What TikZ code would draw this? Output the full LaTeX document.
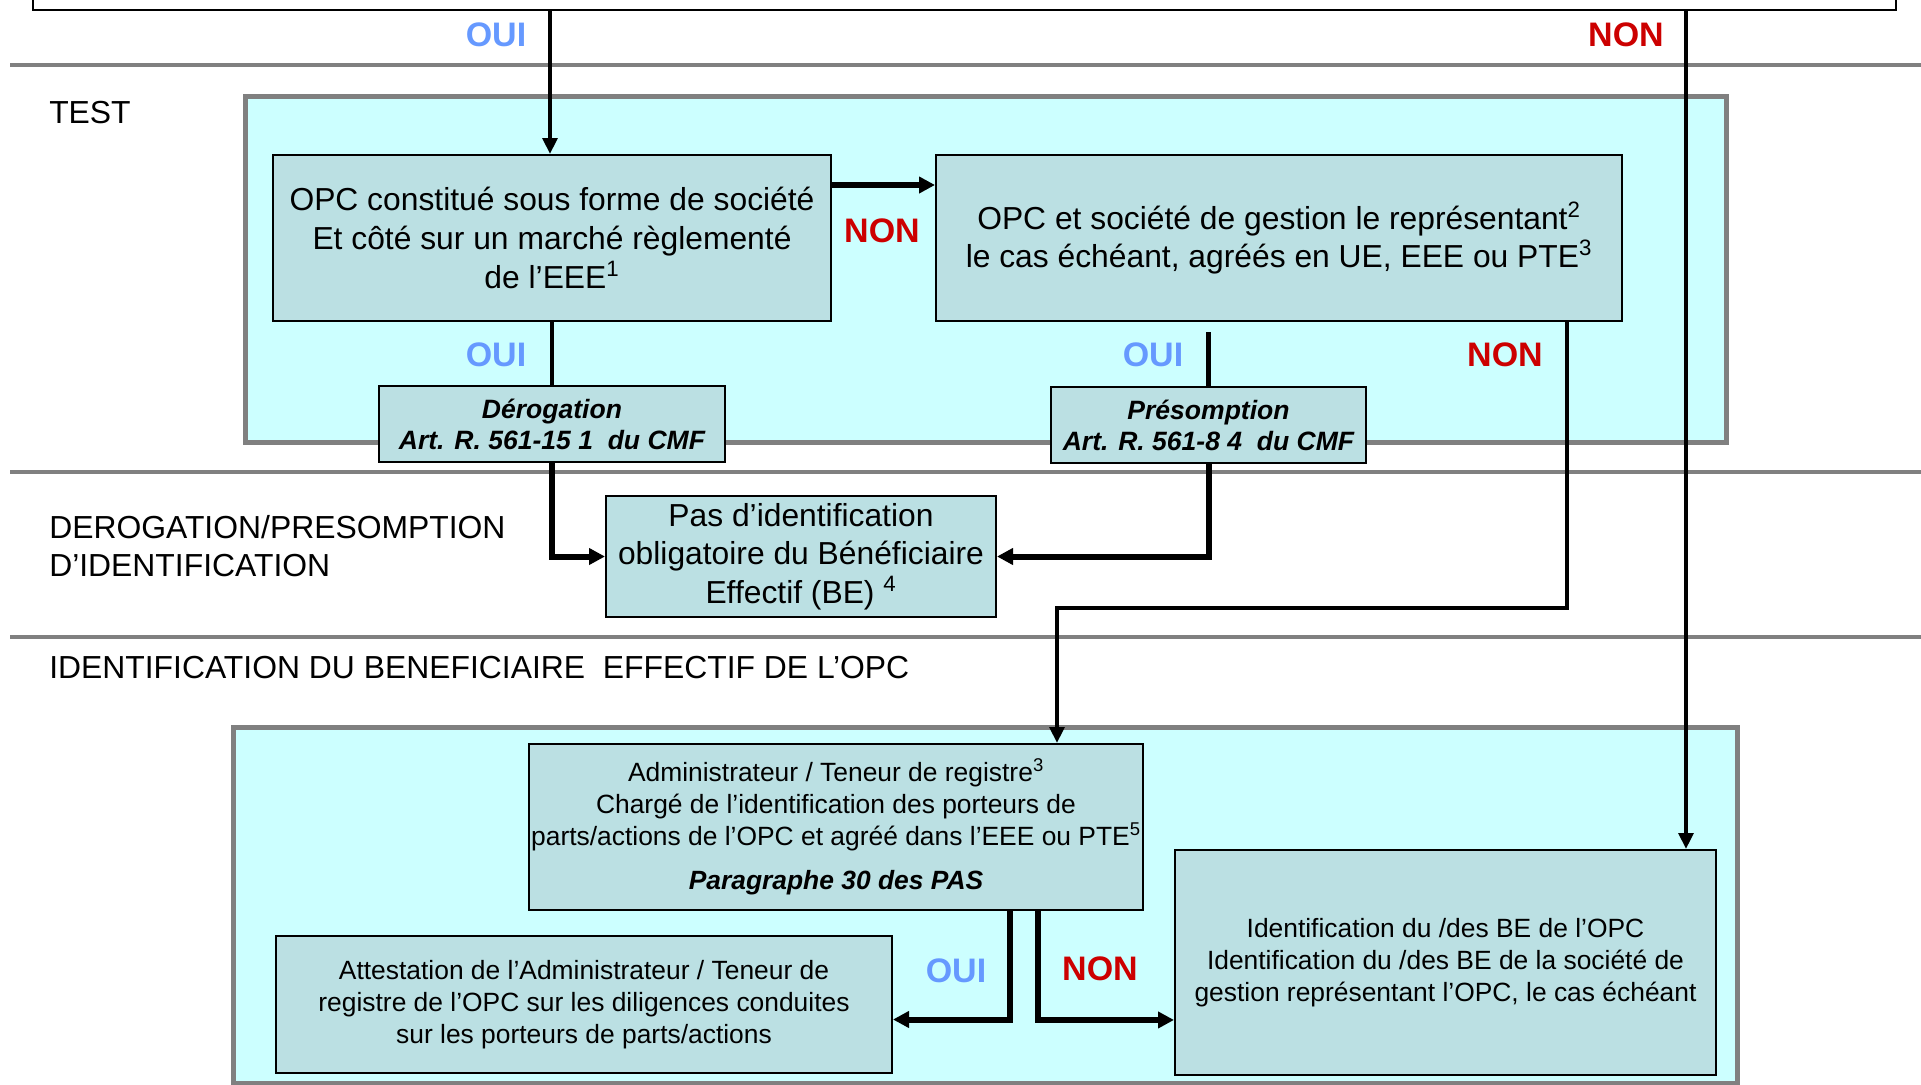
\documentclass[tikz,border=0pt]{standalone}
\usepackage{fontspec}
\setmainfont{Liberation Sans}
\usepackage{tikz}
\usetikzlibrary{arrows.meta}

\definecolor{zoneCyan}{RGB}{204,255,255}
\definecolor{boxBlue}{RGB}{187,224,227}
\definecolor{sepGray}{RGB}{128,128,128}
\definecolor{ouiBlue}{RGB}{102,153,255}
\definecolor{nonRed}{RGB}{204,0,0}

\tikzset{
  box/.style={draw=black, fill=boxBlue, line width=1.5pt, inner sep=0pt, align=center, anchor=north west},
  bigtxt/.style={font=\fontsize{23.85}{29}\selectfont},
  smalltxt/.style={font=\fontsize{19.8}{24}\selectfont},
  arttxt/.style={font=\fontsize{19.9}{23.25}\selectfont\bfseries\itshape},
  zone/.style={draw=sepGray, fill=zoneCyan, line width=3.75pt},
  sepline/.style={draw=sepGray, line width=3pt},
  link/.style={line width=3.6pt},
  flow/.style={line width=4.5pt, -{Triangle[length=12pt,width=12pt]}},
  oui/.style={text=ouiBlue, inner sep=0pt, font=\fontsize{25.5}{30}\selectfont\bfseries},
  non/.style={text=nonRed, inner sep=0pt, font=\fontsize{25.5}{30}\selectfont\bfseries},
  section/.style={anchor=west, align=left, inner sep=0pt, font=\fontsize{23.9}{28.5}\selectfont},
}

\begin{document}
\begin{tikzpicture}[x=0.75pt,y=0.75pt,yscale=-1,xscale=1]
\useasboundingbox (0,0) rectangle (1921,1085);

%Separator lines
\draw[sepline] (10,65) -- (1921,65);
\draw[sepline] (10,472) -- (1921,472);
\draw[sepline] (10,637) -- (1921,637);

%Shape: top box, only its lower part is seen
\draw[line width=1.5pt] (33,0) -- (33,10) -- (1896,10) -- (1896,0);

%Shape: zones
\draw[zone] (245,96) rectangle (1726,442);
\draw[zone] (233,727) rectangle (1737,1083);

% Text Node
\node[section] (lblTest) at (49,113) {TEST};
% Text Node
\node[section] (lblDerog) at (49,546) {DEROGATION/PRESOMPTION\\D’IDENTIFICATION};
% Text Node
\node[section] (lblIdent) at (49,668) {IDENTIFICATION DU BENEFICIAIRE~~EFFECTIF DE L’OPC};

% Boxes
\node[box, bigtxt, minimum width=418.5pt, minimum height=124.5pt] (opcSoc) at (272,154) {OPC constitué sous forme de société\\Et côté sur un marché règlementé\\de l’EEE\textsuperscript{1}};
\node[box, bigtxt, minimum width=514.5pt, minimum height=124.5pt] (opcGest) at (935,154) {OPC et société de gestion le représentant\textsuperscript{2}\\le cas échéant, agréés en UE, EEE ou PTE\textsuperscript{3}};
\node[box, arttxt, minimum width=259.5pt, minimum height=57pt] (derog) at (378,385) {Dérogation\\Art. R. 561-15 1~~du CMF};
\node[box, arttxt, minimum width=236.25pt, minimum height=57pt] (presom) at (1050,386) {Présomption\\Art. R. 561-8 4~~du CMF};
\node[box, bigtxt, minimum width=292.5pt, minimum height=90.75pt] (pasId) at (605,495) {Pas d’identification\\obligatoire du Bénéficiaire\\Effectif (BE) \textsuperscript{4}};
\node[box, smalltxt, minimum width=460.5pt, minimum height=124.5pt] (admin) at (528,743) {Administrateur / Teneur de registre\textsuperscript{3}\\Chargé de l’identification des porteurs de\\parts/actions de l’OPC et agréé dans l’EEE ou PTE\textsuperscript{5}\\[9pt]\textbf{\textit{Paragraphe 30 des PAS}}};
\node[box, smalltxt, minimum width=462pt, minimum height=102.75pt] (attest) at (275,935) {Attestation de l’Administrateur / Teneur de\\registre de l’OPC sur les diligences conduites\\sur les porteurs de parts/actions};
\node[box, smalltxt, minimum width=405.75pt, minimum height=168.75pt] (identBE) at (1174,849) {Identification du /des BE de l’OPC\\Identification du /des BE de la société de\\gestion représentant l’OPC, le cas échéant};

% OUI / NON
\node[oui] (ouiTop) at (496,35) {OUI};
\node[non] (nonTop) at (1626,35) {NON};
\node[non] (nonSoc) at (882,231) {NON};
\node[oui] (ouiSoc) at (496,355) {OUI};
\node[oui] (ouiGest) at (1153,355) {OUI};
\node[non] (nonGest) at (1505,355) {NON};
\node[oui] (ouiAdmin) at (956,971) {OUI};
\node[non] (nonAdmin) at (1100,969) {NON};

\coordinate (ouiStart) at (550,10);
\coordinate (nonStart) at (1686,10);
\coordinate (nonBend) at (1567,608);
\path (presom.north |- opcGest.south) ++(0,10) coordinate (gestOui);

%Straight Lines
\draw[link, -{Triangle[length=12pt,width=11pt]}] (ouiStart) -- (ouiStart |- opcSoc.north);
\draw[link, -{Triangle[length=12pt,width=11pt]}] (nonStart) -- (nonStart |- identBE.north);
\draw[flow] ([yshift=23.25pt]opcSoc.north east) -- ([yshift=23.25pt]opcGest.north west);
\draw[link] (opcSoc.south) -- (derog.north);
\draw[link] (gestOui) -- (presom.north);
\draw[link, -{Triangle[length=12pt,width=11pt]}] (opcGest.south -| nonBend) -- (nonBend) -| ([xshift=-65.25pt]admin.north east);
\draw[flow] (derog.south) |- (pasId.west);
\draw[flow] (presom.south) |- (pasId.east);
\draw[flow] ([xshift=130.5pt]admin.south) |- ([yshift=11.25pt]attest.east);
\draw[flow] ([xshift=151.5pt]admin.south) |- ([yshift=43.1pt]identBE.west);

\end{tikzpicture}
\end{document}
